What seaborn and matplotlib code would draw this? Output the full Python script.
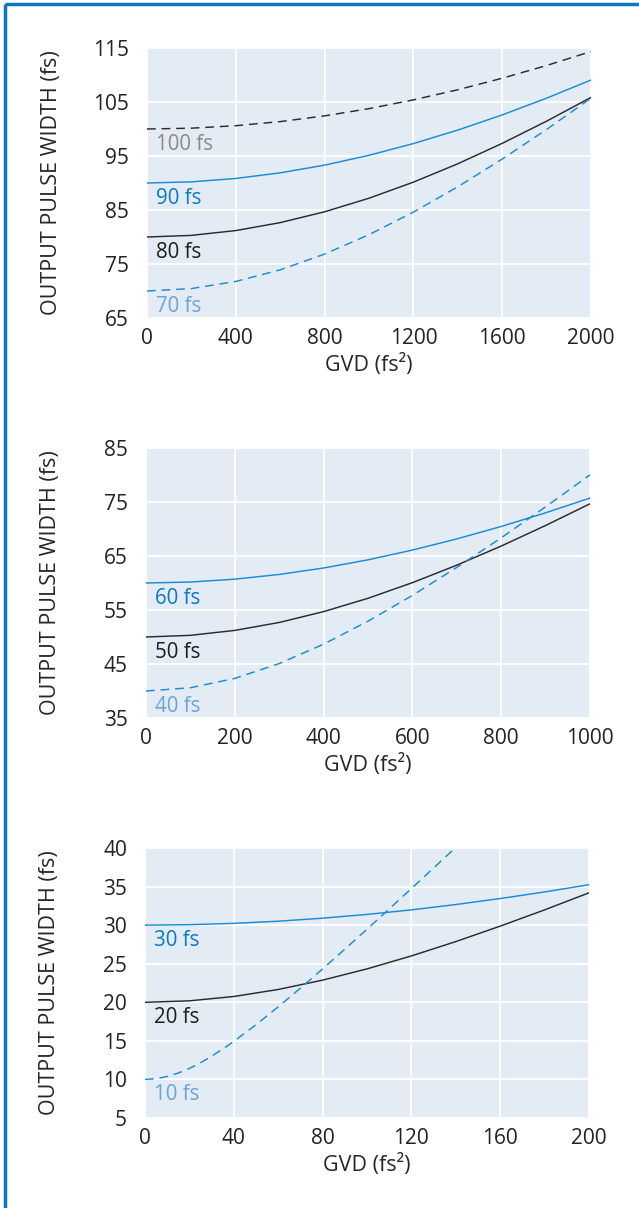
import matplotlib
matplotlib.use("Agg")
import matplotlib.pyplot as plt
from matplotlib.lines import Line2D
import seaborn as sns
import pandas as pd

# --- Panel 1: GVD 0-2000 fs^2 ---
gvd_1 = [0, 200, 400, 600, 800, 1000, 1200, 1400, 1600, 1800, 2000]
width_100fs = [100.0, 100.15, 100.61, 101.37, 102.43, 103.77, 105.39, 107.27, 109.40, 111.76, 114.35]
width_90fs = [90.0, 90.21, 90.84, 91.88, 93.31, 95.13, 97.30, 99.80, 102.61, 105.71, 109.07]
width_80fs = [80.0, 80.30, 81.19, 82.66, 84.67, 87.18, 90.16, 93.56, 97.34, 101.45, 105.85]
width_70fs = [70.0, 70.45, 71.77, 73.92, 76.84, 80.43, 84.61, 89.30, 94.43, 99.92, 105.71]

# --- Panel 2: GVD 0-1000 fs^2 ---
gvd_2 = [0, 100, 200, 300, 400, 500, 600, 700, 800, 900, 1000]
width_60fs = [60.0, 60.18, 60.71, 61.58, 62.78, 64.29, 66.10, 68.16, 70.47, 73.00, 75.73]
width_50fs = [50.0, 50.31, 51.22, 52.69, 54.70, 57.17, 60.06, 63.30, 66.84, 70.65, 74.67]
width_40fs = [40.0, 40.60, 42.33, 45.08, 48.67, 52.93, 57.70, 62.88, 68.37, 74.11, 80.03]

# --- Panel 3: GVD 0-200 fs^2 ---
gvd_3 = [0, 20, 40, 60, 80, 100, 120, 140, 160, 180, 200]
width_30fs = [30.0, 30.06, 30.23, 30.51, 30.90, 31.39, 31.98, 32.67, 33.45, 34.30, 35.24]
width_20fs = [20.0, 20.19, 20.75, 21.66, 22.87, 24.33, 26.01, 27.87, 29.87, 31.98, 34.19]
gvd_3_short = [0, 5, 10, 15, 20, 25, 30, 35, 40, 50, 60, 70, 80, 90, 100, 110, 120, 130, 140]
width_10fs = [10.0, 10.10, 10.38, 10.83, 11.43, 12.15, 13.01, 13.93, 14.93, 17.09, 19.41,
              21.83, 24.33, 26.88, 29.47, 32.10, 34.74, 37.41, 40.08]

# axis settings per panel
xticks_1 = [0, 400, 800, 1200, 1600, 2000]
yticks_1 = [65, 75, 85, 95, 105, 115]
xticks_2 = [0, 200, 400, 600, 800, 1000]
yticks_2 = [35, 45, 55, 65, 75, 85]
xticks_3 = [0, 40, 80, 120, 160, 200]
yticks_3 = [5, 10, 15, 20, 25, 30, 35, 40]

BLUE = "#1b8bd3"
DARK = "#2b2b2b"
BG = "#e3ebf5"
FRAME = "#0a78c2"

sns.set_theme(style="darkgrid", rc={
    "axes.facecolor": BG,
    "grid.color": "white",
    "grid.linewidth": 1.3,
    "axes.edgecolor": BG,
})
plt.rcParams["font.family"] = ["Open Sans", "DejaVu Sans"]
plt.rcParams["text.color"] = "#222222"

fig = plt.figure(figsize=(6.39, 12.08), dpi=100)
W, H = 639.0, 1208.0


def make_axes(left, top, right, bottom):
    return fig.add_axes([left / W, 1 - bottom / H, (right - left) / W, (bottom - top) / H])


# series: (x, y, line colour, dashed, label text, label colour)
panels = [
    (make_axes(147, 48, 591, 318), xticks_1, yticks_1, [
        (gvd_1, width_100fs, DARK, True, "100 fs", "#8a8a8a"),
        (gvd_1, width_90fs, BLUE, False, "90 fs", "#0a7bc1"),
        (gvd_1, width_80fs, DARK, False, "80 fs", "#1e1e1e"),
        (gvd_1, width_70fs, BLUE, True, "70 fs", "#6fa2da"),
    ]),
    (make_axes(146, 448, 590, 718), xticks_2, yticks_2, [
        (gvd_2, width_60fs, BLUE, False, "60 fs", "#0a7bc1"),
        (gvd_2, width_50fs, DARK, False, "50 fs", "#1e1e1e"),
        (gvd_2, width_40fs, BLUE, True, "40 fs", "#6fa2da"),
    ]),
    (make_axes(145, 848, 589, 1118), xticks_3, yticks_3, [
        (gvd_3, width_30fs, BLUE, False, "30 fs", "#0a7bc1"),
        (gvd_3, width_20fs, DARK, False, "20 fs", "#1e1e1e"),
        (gvd_3_short, width_10fs, BLUE, True, "10 fs", "#6fa2da"),
    ]),
]

for ax, xt, yt, series in panels:
    for x, y, col, dashed, text, tcol in series:
        df = pd.DataFrame({"gvd": x, "width": y})
        sns.lineplot(data=df, x="gvd", y="width", ax=ax, color=col, linewidth=1.05,
                     linestyle="--" if dashed else "-")
        if dashed:
            ax.lines[-1].set_dashes((6, 4))
        ax.annotate(text, xy=(x[0], y[0]), xytext=(9, -15.5), textcoords="offset pixels",
                    ha="left", va="center", fontsize=14.8, color=tcol)
    ax.set_xlim(xt[0], xt[-1])
    ax.set_ylim(yt[0], yt[-1])
    ax.set_xticks(xt)
    ax.set_yticks(yt)
    ax.tick_params(axis="both", length=0, labelsize=15, labelcolor="#222222")
    ax.tick_params(axis="x", pad=7)
    ax.tick_params(axis="y", pad=13)
    ax.set_xlabel("GVD (fs²)", fontsize=15.5, va="center")
    ax.set_ylabel("OUTPUT PULSE WIDTH (fs)", fontsize=15.5, va="center")
    ax.xaxis.set_label_coords(0.5, -0.174)
    ax.yaxis.set_label_coords(-0.215, 0.5)
    for s in ax.spines.values():
        s.set_visible(False)

# frame lines along the top and left edges
fig.add_artist(Line2D([5 / W, 1.0], [1 - 4 / H, 1 - 4 / H], color=FRAME, linewidth=2.5,
                      transform=fig.transFigure, solid_capstyle="butt"))
fig.add_artist(Line2D([5 / W, 5 / W], [0.0, 1 - 4 / H], color=FRAME, linewidth=2.5,
                      transform=fig.transFigure, solid_capstyle="butt"))

fig.savefig("out.png", dpi=100, facecolor="white")
